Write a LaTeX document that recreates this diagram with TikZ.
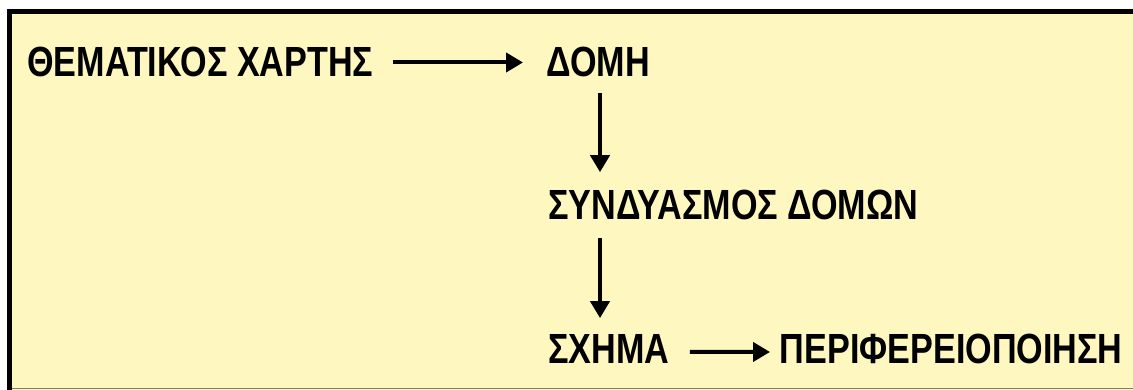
\documentclass[tikz,border=0pt]{standalone}
\usepackage{fontspec}
\setmainfont{Liberation Sans}[FakeStretch=0.81]
\usetikzlibrary{arrows.meta}
\definecolor{paper}{RGB}{255,247,192}
\definecolor{rim}{RGB}{125,125,105}

\begin{document}
\begin{tikzpicture}[>={Triangle[length=0.34cm,width=0.38cm]},
	word/.style={anchor=base west, inner sep=0pt, font=\fontsize{24}{28}\selectfont\bfseries},
	link/.style={->, line width=0.08cm}]
	\useasboundingbox (0,0) rectangle (22.66,7.8);
	\fill[paper] (0.19,0) rectangle (22.66,7.56);
	\draw[rim, line width=0.03cm] (0.24,0.03) -- (22.66,0.03);
	\draw[line width=0.1cm] (0.19,0) -- (0.19,7.56) -- (22.66,7.56);
	\coordinate (col) at (12,0);
	\node[word] (map) at (0.54,6.26) {ΘΕΜΑΤΙΚΟΣ ΧΑΡΤΗΣ};
	\node[word] (domi) at (10.92,6.26) {ΔΟΜΗ};
	\node[word] (synd) at (10.96,3.40) {ΣΥΝΔΥΑΣΜΟΣ ΔΟΜΩΝ};
	\node[word] (schima) at (10.96,0.53) {ΣΧΗΜΑ};
	\node[word] (perif) at (15.59,0.53) {ΠΕΡΙΦΕΡΕΙΟΠΟΙΗΣΗ};
	\draw[link, shorten <=0.38cm, shorten >=0.46cm] (map.east) -- (domi.west);
	\draw[link, shorten <=0.3cm, shorten >=0.36cm] (domi.south -| col) -- (synd.north -| col);
	\draw[link, shorten <=0.34cm, shorten >=0.32cm] (synd.south -| col) -- (schima.north -| col);
	\draw[link, shorten <=0.4cm, shorten >=0.19cm] ([yshift=-0.06cm]schima.east) -- ([yshift=-0.06cm]perif.west);
\end{tikzpicture}
\end{document}
